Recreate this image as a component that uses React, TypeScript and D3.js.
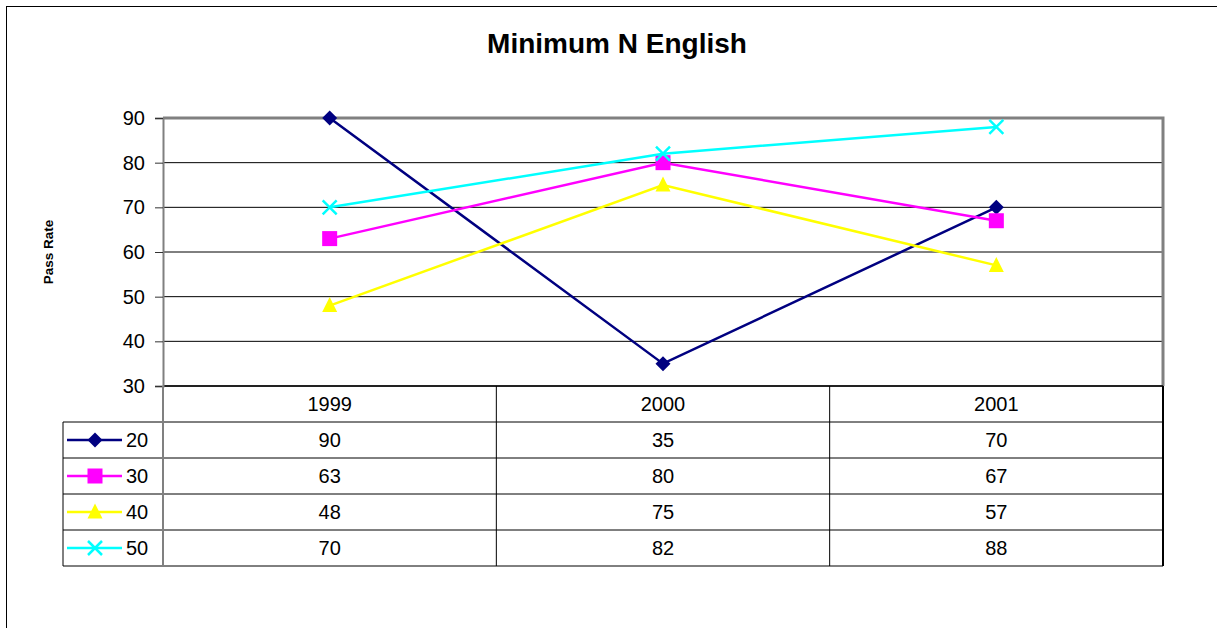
import * as d3 from 'd3'
import { useEffect, useRef } from 'react'

const years = ['1999', '2000', '2001']
const seriesNames = ['20', '30', '40', '50']
const s20 = [90, 35, 70]
const s30 = [63, 80, 67]
const s40 = [48, 75, 57]
const s50 = [70, 82, 88]
const yTicks = [30, 40, 50, 60, 70, 80, 90]

const colors = ['#000080', '#ff00ff', '#ffff00', '#00ffff']
const markers = ['diamond', 'square', 'triangle', 'cross']

const W = 1217
const H = 628
const plot = { left: 163, right: 1163, top: 118, bottom: 386 }
const rowH = 36
const tableLeft = 63
const font = 'Arial, "Liberation Sans", sans-serif'
const fs = 20

function drawMarker(g: any, kind: string, x: number, y: number, color: string) {
  if (kind === 'diamond') {
    g.append('path')
      .attr('d', `M${x},${y - 7.5}L${x + 7.5},${y}L${x},${y + 7.5}L${x - 7.5},${y}Z`)
      .attr('fill', color)
  } else if (kind === 'square') {
    g.append('rect')
      .attr('x', x - 7.5)
      .attr('y', y - 7.5)
      .attr('width', 15)
      .attr('height', 15)
      .attr('fill', color)
  } else if (kind === 'triangle') {
    g.append('path')
      .attr('d', `M${x},${y - 8.5}L${x + 7.5},${y + 6.5}L${x - 7.5},${y + 6.5}Z`)
      .attr('fill', color)
  } else {
    g.append('path')
      .attr('d', `M${x - 7},${y - 7}L${x + 7},${y + 7}M${x - 7},${y + 7}L${x + 7},${y - 7}`)
      .attr('stroke', color)
      .attr('stroke-width', 2.5)
  }
}

export default function App() {
  const ref = useRef<SVGSVGElement>(null)

  useEffect(() => {
    const svg = d3.select(ref.current)
    svg.selectAll('*').remove()
    const data = [s20, s30, s40, s50]

    // outer chart border (runs past the window on right and bottom)
    svg.append('rect')
      .attr('x', 6.5).attr('y', 6.5)
      .attr('width', W + 20).attr('height', H + 20)
      .attr('fill', 'white').attr('stroke', 'black').attr('stroke-width', 1)

    svg.append('text')
      .attr('x', 617).attr('y', 53)
      .attr('text-anchor', 'middle')
      .attr('font-family', font).attr('font-weight', 'bold').attr('font-size', 28)
      .text('Minimum N English')

    svg.append('text')
      .attr('transform', 'translate(53,252) rotate(-90)')
      .attr('text-anchor', 'middle')
      .attr('font-family', font).attr('font-weight', 'bold').attr('font-size', 13.5)
      .text('Pass Rate')

    const x = d3.scaleBand().domain(years).range([plot.left, plot.right])
    const y = d3.scaleLinear().domain([30, 90]).range([plot.bottom, plot.top])

    // gridlines
    svg.append('g')
      .selectAll('line')
      .data(yTicks.slice(1, -1))
      .join('line')
      .attr('x1', plot.left).attr('x2', plot.right)
      .attr('y1', (d) => y(d)).attr('y2', (d) => y(d))
      .attr('stroke', 'black').attr('stroke-width', 1)

    // plot frame
    svg.append('path')
      .attr('d', `M${plot.left},${plot.top}H${plot.right}V${plot.bottom}`)
      .attr('fill', 'none').attr('stroke', '#808080').attr('stroke-width', 3)
    svg.append('line')
      .attr('x1', plot.left).attr('x2', plot.right)
      .attr('y1', plot.bottom).attr('y2', plot.bottom)
      .attr('stroke', '#222').attr('stroke-width', 2)

    // y axis
    const yAxis = d3.axisLeft(y).tickValues(yTicks).tickSize(8).tickPadding(10)
    const ga = svg.append('g').attr('transform', `translate(${plot.left},0)`).call(yAxis)
    ga.select('.domain').attr('stroke', '#808080').attr('stroke-width', 2)
    ga.selectAll('.tick line').attr('stroke', '#333')
    ga.selectAll('.tick text')
      .attr('font-family', font).attr('font-size', fs).attr('fill', 'black')

    // data table
    const tableTop = plot.bottom
    const tableBottom = tableTop + rowH * 5
    const tg = svg.append('g')
    for (let i = 1; i <= 5; i++) {
      const yy = tableTop + rowH * i
      tg.append('line')
        .attr('x1', tableLeft).attr('x2', plot.right)
        .attr('y1', yy).attr('y2', yy)
        .attr('stroke', 'black').attr('stroke-width', 1)
    }
    tg.append('line')
      .attr('x1', tableLeft).attr('x2', tableLeft)
      .attr('y1', tableTop + rowH).attr('y2', tableBottom)
      .attr('stroke', 'black')
    years.forEach((yr, i) => {
      const bx = x(yr)!
      if (i > 0) {
        tg.append('line')
          .attr('x1', bx).attr('x2', bx)
          .attr('y1', tableTop).attr('y2', tableBottom)
          .attr('stroke', 'black')
      }
    })
    tg.append('line')
      .attr('x1', plot.left).attr('x2', plot.left)
      .attr('y1', tableTop).attr('y2', tableBottom)
      .attr('stroke', '#808080').attr('stroke-width', 2)
    tg.append('line')
      .attr('x1', plot.right).attr('x2', plot.right)
      .attr('y1', tableTop).attr('y2', tableBottom)
      .attr('stroke', 'black').attr('stroke-width', 2)

    const cx = (yr: string) => x(yr)! + x.bandwidth() / 2
    years.forEach((yr) => {
      tg.append('text')
        .attr('x', cx(yr)).attr('y', tableTop + rowH / 2 + 7)
        .attr('text-anchor', 'middle')
        .attr('font-family', font).attr('font-size', fs)
        .text(yr)
    })
    data.forEach((vals, si) => {
      const ry = tableTop + rowH * (si + 1) + rowH / 2
      vals.forEach((v, i) => {
        tg.append('text')
          .attr('x', cx(years[i])).attr('y', ry + 7)
          .attr('text-anchor', 'middle')
          .attr('font-family', font).attr('font-size', fs)
          .text(v)
      })
      tg.append('line')
        .attr('x1', 67).attr('x2', 122)
        .attr('y1', ry).attr('y2', ry)
        .attr('stroke', colors[si]).attr('stroke-width', 2.5)
      drawMarker(tg, markers[si], 95, ry, colors[si])
      tg.append('text')
        .attr('x', 126).attr('y', ry + 7)
        .attr('font-family', font).attr('font-size', fs)
        .text(seriesNames[si])
    })

    // series lines
    const line = d3.line<number>()
      .x((_, i) => cx(years[i]))
      .y((d) => y(d))
    data.forEach((vals, si) => {
      const g = svg.append('g')
      g.append('path')
        .attr('d', line(vals))
        .attr('fill', 'none').attr('stroke', colors[si]).attr('stroke-width', 2.5)
      vals.forEach((v, i) => drawMarker(g, markers[si], cx(years[i]), y(v), colors[si]))
    })
  }, [])

  return (
    <svg
      ref={ref}
      width={W}
      height={H}
      style={{ position: 'absolute', left: 0, top: 0, background: 'white' }}
    />
  )
}
